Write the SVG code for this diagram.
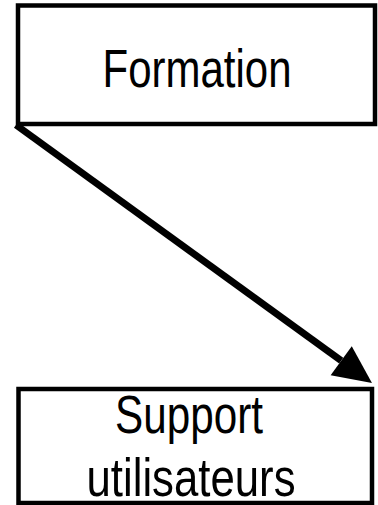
<svg xmlns="http://www.w3.org/2000/svg" width="378" height="505" viewBox="0 0 378 505">
  <style>
    .box { fill: #ffffff; stroke: #000000; stroke-width: 4.5; }
    .label { font-family: "Liberation Sans", Arial, sans-serif; font-size: 53px; fill: #000000; text-anchor: middle; }
    .link { stroke: #000000; stroke-width: 7; fill: none; }
  </style>
  <defs>
    <marker id="arrowhead" markerUnits="userSpaceOnUse" markerWidth="40" markerHeight="38" refX="0" refY="18" orient="auto" overflow="visible">
      <path d="M0,0 L38,18 L0,36 z" fill="#000000"/>
    </marker>
  </defs>
  <rect width="378" height="505" fill="#ffffff"/>

  <g id="node-formation">
    <rect class="box" x="18" y="5.5" width="357" height="118.5"/>
    <text class="label" x="197" y="87" textLength="189" lengthAdjust="spacingAndGlyphs">Formation</text>
  </g>

  <g id="node-support">
    <rect class="box" x="18.5" y="389" width="353.5" height="114"/>
    <text class="label" x="189" y="433" textLength="148" lengthAdjust="spacingAndGlyphs">Support</text>
    <text class="label" x="191" y="496" textLength="209" lengthAdjust="spacingAndGlyphs">utilisateurs</text>
  </g>

  <g id="connectors">
    <line class="link" x1="16" y1="125" x2="341.2" y2="360.7" marker-end="url(#arrowhead)"/>
  </g>
</svg>
